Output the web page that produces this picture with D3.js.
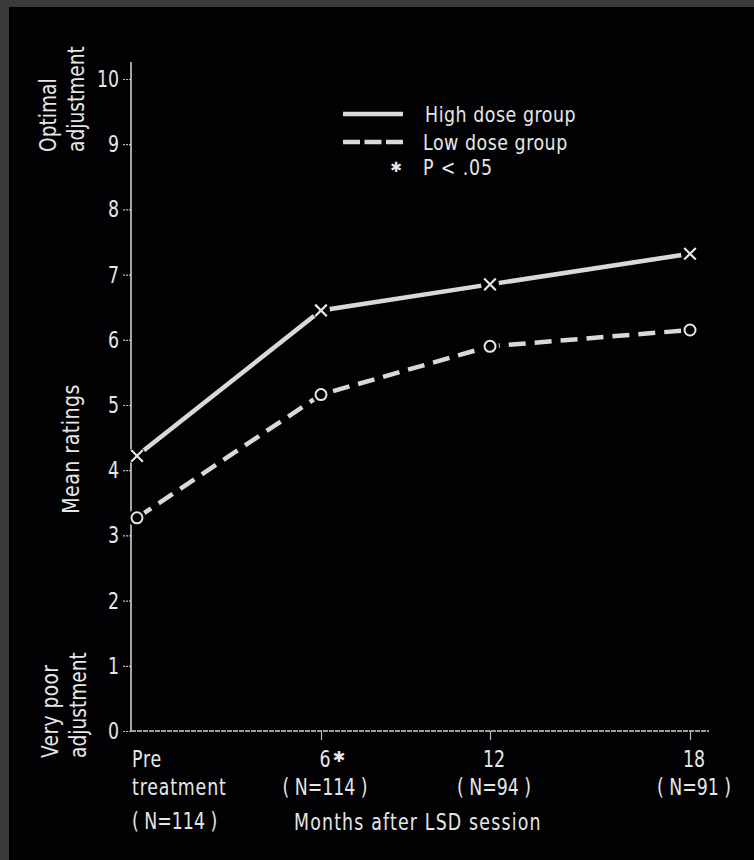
<!DOCTYPE html>
<html>
<head>
<meta charset="utf-8">
<script src="https://cdn.jsdelivr.net/npm/d3@7"></script>
<style>
  html, body { margin: 0; padding: 0; background: #3a3a3a; }
  svg { display: block; }
  text { font-family: "DejaVu Sans Condensed", "DejaVu Sans", sans-serif; fill: #e6e6e6; }
</style>
</head>
<body>
<svg id="chart"></svg>
<script>
// data
var months = [0, 6, 12, 18];
var topLabels = ["Pre", "6", "12", "18"];
var sampleSizes = ["(N=114)", "(N=114)", "(N=94)", "(N=91)"];
var significant = [false, true, false, false];
var highDose = [4.22, 6.45, 6.85, 7.32];
var lowDose = [3.27, 5.16, 5.9, 6.15];
var yTicks = [0, 1, 2, 3, 4, 5, 6, 7, 8, 9, 10];

var W = 754, H = 860;
var lineColor = "#d9d9d9";
var squeeze = 0.84; // the print face is narrower than anything installed

var svg = d3.select("#chart").attr("width", W).attr("height", H);

// black page on gray frame
svg.append("rect").attr("x", 9).attr("y", 7).attr("width", W - 9).attr("height", H - 7).attr("fill", "#020204");

var x = d3.scaleLinear().domain(months).range([137, 321, 490, 690]);
var y = d3.scaleLinear().domain([0, 10]).range([731, 79]);
var axisX = x(0) - 6;

var g = svg.append("g");

// narrow text helper
function label(parent, px, py, str, size, opts) {
  opts = opts || {};
  var rot = opts.rotate ? " rotate(-90)" : "";
  return parent.append("text")
    .attr("transform", `translate(${px}, ${py})${rot} scale(${opts.sx || squeeze}, 1)`)
    .attr("text-anchor", opts.anchor || "start")
    .attr("letter-spacing", opts.ls || 0)
    .style("font-size", size + "px")
    .text(str);
}

// y axis
var yAxis = g.append("g")
  .attr("transform", `translate(${axisX}, 0)`)
  .call(d3.axisLeft(y).tickValues(yTicks).tickSize(8).tickFormat(""));
yAxis.select(".domain").remove();
yAxis.selectAll(".tick line").attr("stroke", "#bbb").attr("stroke-width", 1.2).attr("stroke-dasharray", "2,1");

yTicks.forEach(function (v) {
  label(g, axisX - 12, y(v) + 8, String(v), 23, { anchor: "end" });
});

g.append("line")
  .attr("x1", axisX).attr("x2", axisX)
  .attr("y1", y(0)).attr("y2", y(10) - 17)
  .attr("stroke", "#cfcfcf").attr("stroke-width", 1.6);

// x axis
var xAxis = g.append("g")
  .attr("transform", `translate(0, ${y(0)})`)
  .call(d3.axisBottom(x).tickValues(months.slice(1)).tickSize(9).tickFormat(""));
xAxis.select(".domain").remove();
xAxis.selectAll(".tick line").attr("stroke", "#bbb").attr("stroke-width", 1.2);

g.append("line")
  .attr("x1", axisX).attr("x2", x(18) + 19)
  .attr("y1", y(0)).attr("y2", y(0))
  .attr("stroke", "#cfcfcf").attr("stroke-width", 1.6).attr("stroke-dasharray", "5,1");

// x tick labels
months.forEach(function (m, i) {
  var n = "( " + sampleSizes[i].slice(1, -1) + " )";
  if (i === 0) {
    label(g, axisX + 1, 767, topLabels[i], 23, { ls: 1 });
    label(g, axisX + 1, 795, "treatment", 23, { ls: 1 });
    label(g, axisX + 1, 829, n, 23, { ls: 0 });
  } else {
    label(g, x(m) + 4, 767, topLabels[i], 23, { anchor: "middle" });
    if (significant[i]) {
      g.append("text")
        .attr("x", x(m) + 18).attr("y", 762)
        .attr("text-anchor", "middle")
        .style("font-family", "DejaVu Sans")
        .style("font-size", "15px")
        .style("font-weight", "bold")
        .text("\u2731");
    }
    label(g, x(m) + 4, 795, n, 23, { anchor: "middle", ls: 0 });
  }
});

label(g, 294, 830, "Months after LSD session", 23, { ls: 1.4 });

// rotated y labels
label(g, 56, 152, "Optimal", 23, { rotate: true, sx: 0.9 });
label(g, 84, 152, "adjustment", 23, { rotate: true, sx: 0.9 });
label(g, 79, 449, "Mean ratings", 23, { rotate: true, anchor: "middle", sx: 0.92, ls: 0.5 });
label(g, 58, 758, "Very poor", 23, { rotate: true, sx: 0.9, ls: 0.5 });
label(g, 86, 758, "adjustment", 23, { rotate: true, sx: 0.9 });

// series lines
var line = d3.line().x(function (d, i) { return x(months[i]); }).y(function (d) { return y(d); });

g.append("path").datum(highDose)
  .attr("d", line).attr("fill", "none")
  .attr("stroke", lineColor).attr("stroke-width", 4.5);
g.append("path").datum(lowDose)
  .attr("d", line).attr("fill", "none")
  .attr("stroke", lineColor).attr("stroke-width", 4.5)
  .attr("stroke-dasharray", "17,9");

// gaps around markers
g.selectAll(".gap").data(highDose.concat(lowDose)).join("circle")
  .attr("class", "gap")
  .attr("cx", function (d, i) { return x(months[i % 4]); })
  .attr("cy", function (d) { return y(d); })
  .attr("r", 9).attr("fill", "#020204");

// x markers (high dose)
var cross = d3.symbol().type(d3.symbolX).size(90);
g.selectAll(".xm").data(highDose).join("path")
  .attr("class", "xm")
  .attr("d", cross)
  .attr("transform", function (d, i) { return `translate(${x(months[i])}, ${y(d)})`; })
  .attr("fill", "none").attr("stroke", "#e6e6e6").attr("stroke-width", 2.2);

// o markers (low dose)
g.selectAll(".om").data(lowDose).join("circle")
  .attr("class", "om")
  .attr("cx", function (d, i) { return x(months[i]); })
  .attr("cy", function (d) { return y(d); })
  .attr("r", 5.5)
  .attr("fill", "none").attr("stroke", "#e6e6e6").attr("stroke-width", 2);

// legend
var lg = svg.append("g");
lg.append("line").attr("x1", 343).attr("x2", 403).attr("y1", 114).attr("y2", 114)
  .attr("stroke", lineColor).attr("stroke-width", 4.5);
lg.append("line").attr("x1", 343).attr("x2", 403).attr("y1", 142).attr("y2", 142)
  .attr("stroke", lineColor).attr("stroke-width", 4.5).attr("stroke-dasharray", "17,4.5");
lg.append("text").attr("x", 396).attr("y", 172).attr("text-anchor", "middle")
  .style("font-family", "DejaVu Sans").style("font-size", "14px").style("font-weight", "bold").text("\u2731");
label(lg, 425, 122, "High dose group", 22, { sx: 0.88, ls: 0.6 });
label(lg, 423, 150, "Low dose group", 22, { sx: 0.88, ls: 0.6 });
label(lg, 423, 175, "P <  .05", 22, { sx: 0.88, ls: 1 });
</script>
</body>
</html>
